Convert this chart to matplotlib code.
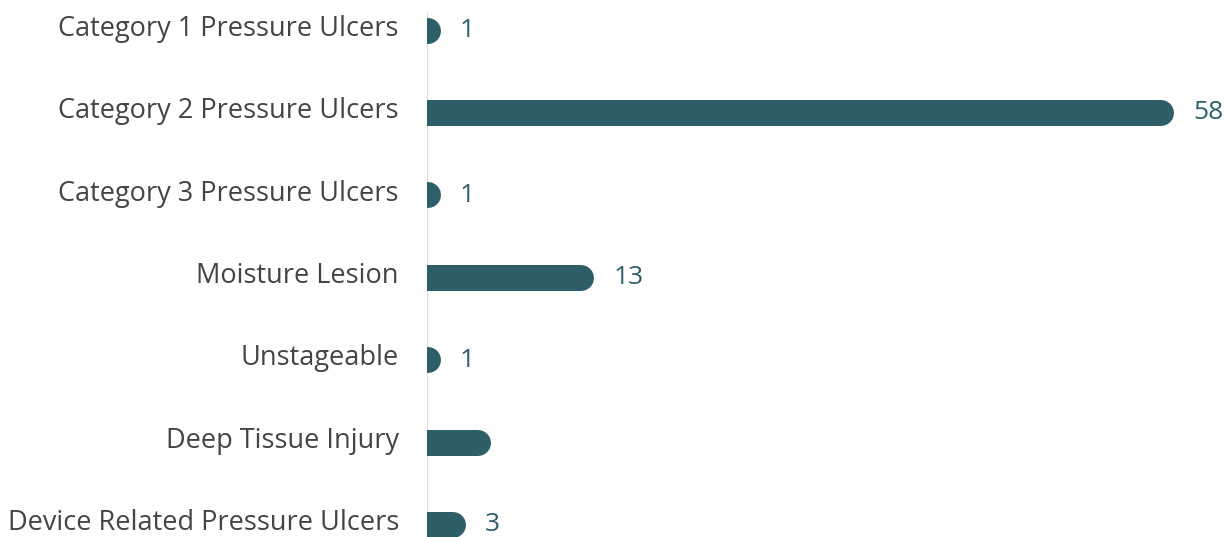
import matplotlib
matplotlib.use('Agg')
import matplotlib.pyplot as plt

categories = ['Category 1 Pressure Ulcers', 'Category 2 Pressure Ulcers',
              'Category 3 Pressure Ulcers', 'Moisture Lesion', 'Unstageable',
              'Deep Tissue Injury', 'Device Related Pressure Ulcers']
counts = [1, 58, 1, 13, 1, 5, 3]
show_label = [True, True, True, True, True, False, True]

BAR = '#2e5f68'
TEXT = '#444444'
DPI = 100
W, H = 1227, 537

plt.rcParams['font.family'] = ['Open Sans', 'DejaVu Sans']

fig = plt.figure(figsize=(W / DPI, H / DPI), dpi=DPI)
left_px = 427
ax = fig.add_axes([left_px / W, 0, (W - left_px) / W, 1])

px_per_unit = 747 / 58
ax.set_xlim(0, (W - left_px) / px_per_unit)
# row centres sit ~82 px apart, first one 30 px from the top
row_px = 82.4
top_px = 30.5
ax.set_ylim(6 + (H - top_px - 6 * row_px) / row_px, -top_px / row_px)

bar_px = 26
lw_pt = bar_px * 72 / DPI
r_units = (bar_px / 2) / px_per_unit

for i, (name, v) in enumerate(zip(categories, counts)):
    end = max(v - r_units, 0.05)
    # thick line with a round cap; the left cap gets clipped at x=0
    ax.plot([-2, end], [i, i], color=BAR, lw=lw_pt, solid_capstyle='round', zorder=3)
    if show_label[i]:
        ax.annotate(str(v), xy=(v, i), xytext=(14, 0), textcoords='offset points',
                    fontsize=19, color=BAR, va='center', ha='left')
    ax.text(-28 / px_per_unit, i - 0.02, name, fontsize=19.5, color=TEXT,
            ha='right', va='center', clip_on=False)

ax.axvline(0, ymin=0, ymax=0.975, color='#dddddd', lw=1.5, zorder=1)
ax.axis('off')

fig.savefig('out.png', dpi=DPI)
